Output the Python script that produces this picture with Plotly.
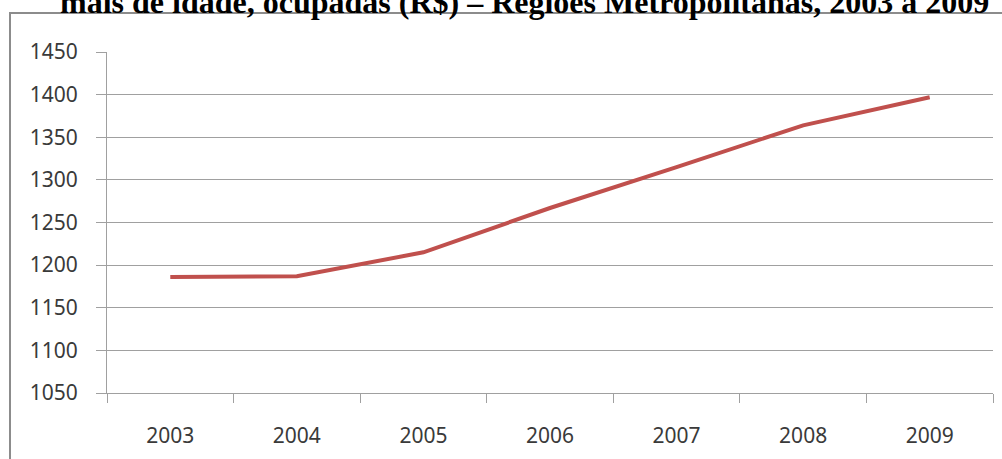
import plotly.graph_objects as go

# Average income series, 2003-2009
years = ["2003", "2004", "2005", "2006", "2007", "2008", "2009"]
income = [1186, 1187, 1215, 1267, 1315, 1364, 1397]
y_ticks = [1050, 1100, 1150, 1200, 1250, 1300, 1350, 1400, 1450]
title_text = "mais de idade, ocupadas (R$) – Regiões Metropolitanas, 2003 a 2009"

W, H = 1002, 459
ML, MR, MT, MB = 107, 9, 52, 66
PW, PH = W - ML - MR, H - MT - MB


def px_x(px):
    return (px - ML) / PW


def px_y(py):
    return 1 + (MT - py) / PH


fig = go.Figure()
fig.add_trace(go.Scatter(
    x=years, y=income, mode="lines",
    line=dict(color="#c0504d", width=4),
    hoverinfo="x+y",
))

axis_font = dict(family="Noto Sans, Open Sans, sans-serif", size=21, color="#3a3a3a")

fig.update_layout(
    width=W, height=H,
    margin=dict(l=ML, r=MR, t=MT, b=MB),
    paper_bgcolor="white", plot_bgcolor="white",
    showlegend=False,
    xaxis=dict(
        type="category", range=[-0.5, 6.5],
        showgrid=False, showline=True, linecolor="#a0a0a0", linewidth=1,
        ticks="outside", tickson="boundaries", ticklen=9, tickcolor="#a0a0a0",
        tickfont=axis_font, ticklabelstandoff=24,
    ),
    yaxis=dict(
        range=[1050, 1450], tickvals=y_ticks,
        showgrid=True, gridcolor="#a0a0a0", gridwidth=1,
        showline=True, linecolor="#a0a0a0", linewidth=1,
        ticks="outside", ticklen=10, tickcolor="#a0a0a0",
        tickfont=axis_font, ticklabelstandoff=14,
        zeroline=False,
    ),
    shapes=[dict(
        type="rect", xref="paper", yref="paper",
        x0=px_x(10), x1=px_x(1010), y0=px_y(470), y1=px_y(13),
        line=dict(color="#8c8c8c", width=2), fillcolor="rgba(0,0,0,0)",
        layer="below",
    )],
    annotations=[dict(
        text="<b>" + title_text + "</b>",
        xref="paper", yref="paper",
        x=px_x(524), y=px_y(22), xanchor="center", yanchor="bottom",
        showarrow=False,
        font=dict(family="Liberation Serif, Times New Roman, serif", size=32, color="black"),
    )],
)

fig.write_html("out.html")
